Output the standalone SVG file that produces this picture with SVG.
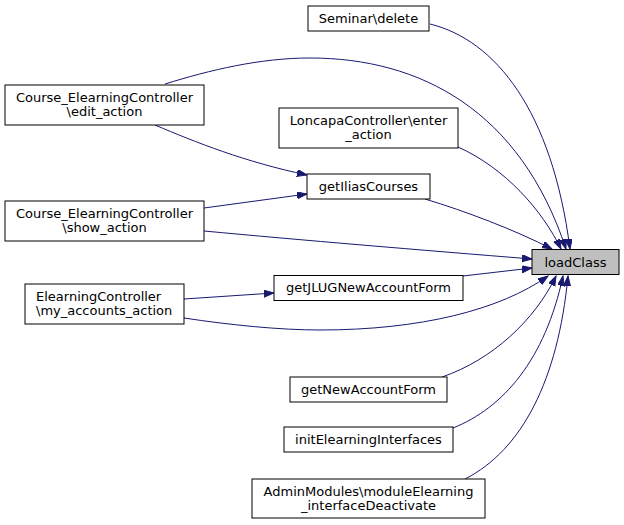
<svg xmlns="http://www.w3.org/2000/svg" width="624" height="525" viewBox="0 0 624 525">
<style>
.n rect{fill:#fff;stroke:#000;stroke-width:1}
.n.cur rect{fill:#bfbfbf}
.n text{font-family:"DejaVu Sans",sans-serif;font-size:13px;fill:#000;text-anchor:middle}
.n text.l{text-anchor:start}
.e path{fill:none;stroke:#191970;stroke-width:1;marker-end:url(#ah)}
</style>
<defs>
<marker id="ah" markerUnits="userSpaceOnUse" markerWidth="11" markerHeight="8" refX="10" refY="3.5" orient="auto">
<path d="M0,0 L10,3.5 L0,7 z" fill="#191970" stroke="#191970" stroke-width="1"/>
</marker>
</defs>
<rect width="624" height="525" fill="#fff"/>
<g class="e" id="edges">
<path d="M430,24 C495,40 552,110 570,249"/>
<path d="M165,84 C210,70 260,58 310,58 C420,58 520,110 566,249"/>
<path d="M458,147 C505,168 542,210 561,249"/>
<path d="M155,125 C195,142 245,162 307,175"/>
<path d="M204,208 L307,194"/>
<path d="M425,199 C465,211 515,230 552,249"/>
<path d="M204,231 C300,240 420,250 532,259"/>
<path d="M463,276 L532,268"/>
<path d="M184,299 L274,293"/>
<path d="M184,318 C230,325 280,330 320,330 C420,330 500,310 548,276"/>
<path d="M442,377 C492,360 535,320 556,276"/>
<path d="M453,428 C503,408 545,360 563,276"/>
<path d="M465,479 C522,450 558,380 568,276"/>
</g>
<g class="n cur" id="loadClass">
<rect x="532" y="249.5" width="87" height="25"/>
<text x="575.5" y="266.5">loadClass</text>
</g>
<g class="n" id="seminar_delete">
<rect x="308" y="6" width="121" height="25"/>
<text x="368.5" y="22.5">Seminar\delete</text>
</g>
<g class="n" id="course_edit_action">
<rect x="5" y="85" width="199" height="40"/>
<text x="104.5" y="102">Course_ElearningController</text>
<text x="104.5" y="116">\edit_action</text>
</g>
<g class="n" id="loncapa_enter_action">
<rect x="279" y="108" width="179" height="40"/>
<text x="368.5" y="125">LoncapaController\enter</text>
<text x="368.5" y="139">_action</text>
</g>
<g class="n" id="getIliasCourses">
<rect x="307" y="174" width="123" height="25"/>
<text x="368.5" y="190.5">getIliasCourses</text>
</g>
<g class="n" id="course_show_action">
<rect x="5" y="201" width="199" height="40"/>
<text x="104.5" y="218">Course_ElearningController</text>
<text x="104.5" y="232">\show_action</text>
</g>
<g class="n" id="getJLUGNewAccountForm">
<rect x="274" y="275.5" width="189" height="25"/>
<text x="368.5" y="292">getJLUGNewAccountForm</text>
</g>
<g class="n" id="my_accounts_action">
<rect x="25" y="284" width="159" height="40"/>
<text class="l" x="36" y="301">ElearningController</text>
<text class="l" x="36" y="315">\my_accounts_action</text>
</g>
<g class="n" id="getNewAccountForm">
<rect x="290" y="377" width="157" height="25"/>
<text x="368.5" y="393.5">getNewAccountForm</text>
</g>
<g class="n" id="initElearningInterfaces">
<rect x="284" y="427" width="169" height="25"/>
<text x="368.5" y="443.5">initElearningInterfaces</text>
</g>
<g class="n" id="adminmodules_deactivate">
<rect x="252" y="479" width="233" height="39"/>
<text x="368.5" y="496">AdminModules\moduleElearning</text>
<text x="368.5" y="510">_interfaceDeactivate</text>
</g>
</svg>
